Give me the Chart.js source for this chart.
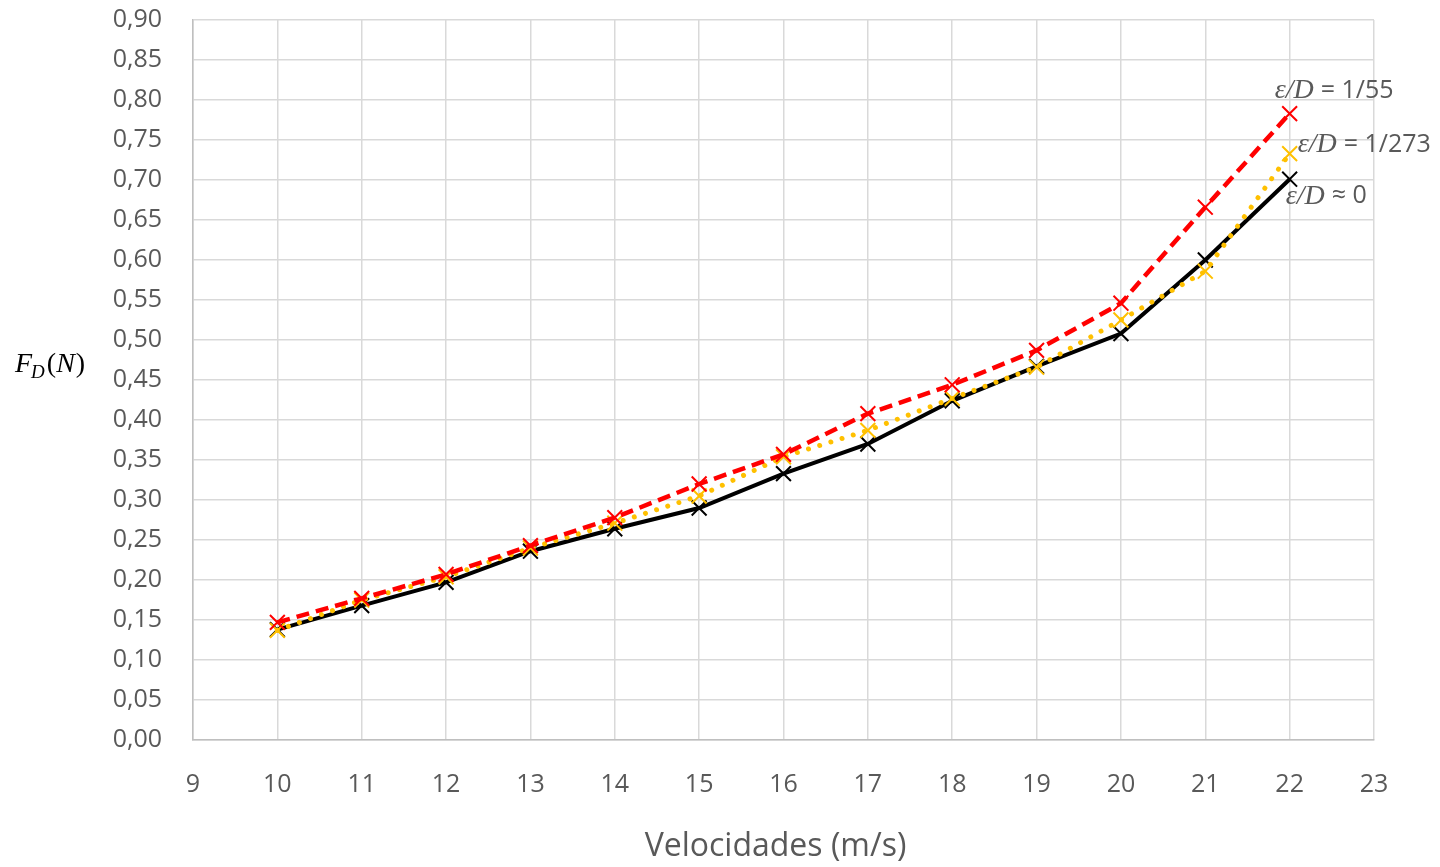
<!DOCTYPE html>
<html>
<head>
<meta charset="utf-8">
<title>Força de arrasto vs velocidade</title>
<script src="https://cdn.jsdelivr.net/npm/chart.js@4.4.1/dist/chart.umd.min.js"></script>
<style>
    html, body { margin: 0; padding: 0; background: #ffffff; }
    #wrap { width: 1440px; height: 867px; }
</style>
</head>
<body>
<div id="wrap"><canvas id="dragChart" width="1440" height="867"></canvas></div>
<script>
// Dados
const velocidades = [10, 11, 12, 13, 14, 15, 16, 17, 18, 19, 20, 21, 22];
const fdRugoso55 = [0.147, 0.177, 0.207, 0.243, 0.278, 0.320, 0.357, 0.408, 0.444, 0.487, 0.546, 0.666, 0.783];
const fdRugoso273 = [0.137, 0.175, 0.204, 0.240, 0.271, 0.305, 0.354, 0.387, 0.427, 0.466, 0.525, 0.586, 0.733];
const fdLiso = [0.138, 0.168, 0.197, 0.236, 0.264, 0.290, 0.333, 0.370, 0.424, 0.467, 0.508, 0.600, 0.701];
const serieNomes = ['= 1/55', '= 1/273', '\u2248 0'];
const xTitulo = 'Velocidades (m/s)';

const gray = '#595959';
const sansFont = "'Open Sans', sans-serif";
const mathFont = "'Liberation Serif', 'DejaVu Serif', serif";

function toPoints(values) {
    return velocidades.map((v, i) => ({ x: v, y: values[i] }));
}

// Rótulos das séries e títulos dos eixos
const labelsPlugin = {
    id: 'labelsPlugin',
    afterDraw(chart) {
        const ctx = chart.ctx;
        const xs = chart.scales.x;
        const ys = chart.scales.y;
        const area = chart.chartArea;
        ctx.save();

        // rótulos ao lado do último ponto
        const offsets = [[-15, -23], [8, -9], [-4, 17]];
        const series = [fdRugoso55, fdRugoso273, fdLiso];
        series.forEach((vals, i) => {
            const last = vals.length - 1;
            const px = xs.getPixelForValue(velocidades[last]) + offsets[i][0];
            const py = ys.getPixelForValue(vals[last]) + offsets[i][1];
            ctx.textBaseline = 'middle';
            ctx.textAlign = 'left';
            ctx.fillStyle = gray;
            ctx.font = "italic 28px " + mathFont;
            ctx.fillText('\u03b5/D', px, py);
            const w = ctx.measureText('\u03b5/D ').width;
            ctx.font = "25px " + sansFont;
            ctx.fillText(serieNomes[i], px + w, py);
        });

        // título eixo x
        ctx.font = "32px " + sansFont;
        ctx.fillStyle = gray;
        ctx.textAlign = 'center';
        ctx.textBaseline = 'middle';
        ctx.fillText(xTitulo, (area.left + area.right) / 2 - 8, 847);

        // título eixo y: F_D(N)
        ctx.fillStyle = '#000000';
        ctx.textAlign = 'left';
        ctx.textBaseline = 'alphabetic';
        let x = 15;
        const base = 372;
        ctx.font = "italic 28px " + mathFont;
        ctx.fillText('F', x, base);
        x += ctx.measureText('F').width;
        ctx.font = "italic 19px " + mathFont;
        ctx.fillText('D', x - 1, base + 6);
        x += ctx.measureText('D').width + 1;
        ctx.font = "28px " + mathFont;
        ctx.fillText('(', x, base);
        x += ctx.measureText('(').width;
        ctx.font = "italic 28px " + mathFont;
        ctx.fillText('N', x, base);
        x += ctx.measureText('N').width + 1;
        ctx.font = "28px " + mathFont;
        ctx.fillText(')', x, base);

        ctx.restore();
    }
};

const ctx = document.getElementById('dragChart').getContext('2d');
new Chart(ctx, {
    type: 'line',
    data: {
        datasets: [
            {
                label: '\u03b5/D = 1/55',
                data: toPoints(fdRugoso55),
                borderColor: '#ff0000',
                backgroundColor: '#ff0000',
                borderWidth: 4.5,
                borderDash: [13, 7],
                pointStyle: 'crossRot',
                pointRadius: 10.5,
                pointBorderWidth: 2,
                pointBorderColor: '#ff0000',
                fill: false,
                tension: 0
            },
            {
                label: '\u03b5/D = 1/273',
                data: toPoints(fdRugoso273),
                borderColor: '#ffc000',
                backgroundColor: '#ffc000',
                borderWidth: 5,
                borderDash: [0.01, 11.7],
                borderCapStyle: 'round',
                pointStyle: 'crossRot',
                pointRadius: 10.5,
                pointBorderWidth: 2,
                pointBorderColor: '#ffc000',
                fill: false,
                tension: 0
            },
            {
                label: '\u03b5/D \u2248 0',
                data: toPoints(fdLiso),
                borderColor: '#000000',
                backgroundColor: '#000000',
                borderWidth: 4,
                pointStyle: 'crossRot',
                pointRadius: 10.5,
                pointBorderWidth: 2,
                pointBorderColor: '#000000',
                fill: false,
                tension: 0
            }
        ]
    },
    options: {
        responsive: false,
        animation: false,
        layout: {
            padding: { left: 0, right: 66, top: 20, bottom: 0 }
        },
        plugins: {
            legend: { display: false },
            tooltip: { enabled: false }
        },
        scales: {
            x: {
                type: 'linear',
                min: 9,
                max: 23,
                afterFit: (scale) => {
                    scale.height = 127;
                    scale.paddingLeft = 0;
                    scale.paddingRight = 0;
                },
                ticks: {
                    stepSize: 1,
                    color: gray,
                    padding: 30,
                    font: { family: "'Open Sans'", size: 25 }
                },
                grid: {
                    color: '#d9d9d9',
                    lineWidth: 1.5,
                    drawTicks: false
                },
                border: { color: '#bfbfbf', width: 1.5 }
            },
            y: {
                min: 0,
                max: 0.9,
                afterFit: (scale) => {
                    scale.width = 193;
                    scale.paddingTop = 0;
                    scale.paddingBottom = 0;
                },
                ticks: {
                    stepSize: 0.05,
                    color: gray,
                    padding: 31,
                    font: { family: "'Open Sans'", size: 25 },
                    callback: (v) => Number(v).toFixed(2).replace('.', ',')
                },
                grid: {
                    color: '#d9d9d9',
                    lineWidth: 1.5,
                    drawTicks: false
                },
                border: { color: '#bfbfbf', width: 1.5 }
            }
        }
    },
    plugins: [labelsPlugin]
});
</script>
</body>
</html>
